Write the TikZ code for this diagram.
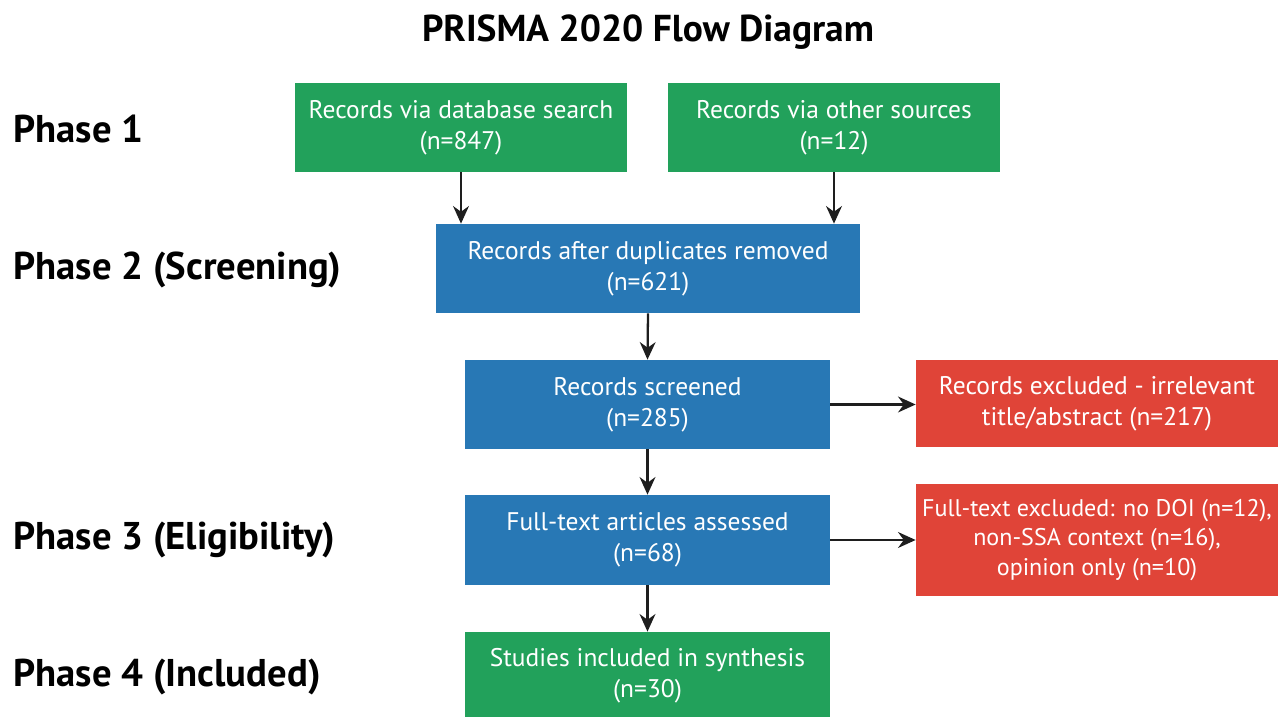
\documentclass[tikz,border=0pt]{standalone}
\usepackage{fontspec}
\setmainfont{PT Sans}
\setsansfont{PT Sans}
\usetikzlibrary{arrows.meta,positioning}
\definecolor{prgreen}{HTML}{22A15B}
\definecolor{prblue}{HTML}{2878B5}
\definecolor{prred}{HTML}{E04438}
\definecolor{prink}{HTML}{1E1E1E}

\begin{document}
\begin{tikzpicture}[
  font=\sffamily,
  stage/.style={fill=#1, text=white, align=center, inner sep=0pt, font=\sffamily\fontsize{14.5}{17.5}\selectfont},
  included/.style={stage=prgreen},
  screen/.style={stage=prblue},
  excluded/.style={stage=prred},
  phase/.style={anchor=west, inner sep=0pt, font=\sffamily\bfseries\fontsize{22}{26}\selectfont, text=black},
  flow/.style={-{Stealth[length=10pt,width=9pt]}, prink, line width=1.3pt}
]
\useasboundingbox (0,0) rectangle (25.56,14.34);

\node[font=\sffamily\bfseries\fontsize{21.3}{25}\selectfont] (title) at (12.96,13.7) {PRISMA 2020 Flow Diagram};

\node[phase] (p1) at (0.26,11.76) {Phase 1};
\node[phase] (p2) at (0.26,8.94) {Phase 2 (Screening)};
\node[phase] (p3) at (0.26,3.54) {Phase 3 (Eligibility)};
\node[phase] (p4) at (0.26,0.8) {Phase 4 (Included)};

\node[included, minimum width=6.64cm, minimum height=1.78cm] (db) at (9.22,11.79) {Records via database search\\(n=847)};
\node[included, minimum width=6.64cm, minimum height=1.78cm] (other) at (16.68,11.79) {Records via other sources\\(n=12)};

\node[screen, minimum width=8.48cm, minimum height=1.78cm] (dedup) at (12.96,8.97) {Records after duplicates removed\\(n=621)};
\node[screen, minimum width=7.3cm, minimum height=1.78cm] (screened) at (12.95,6.25) {Records screened\\(n=285)};
\node[excluded, minimum width=7.24cm, minimum height=1.74cm] (excl1) at (21.94,6.27) {Records excluded - irrelevant\\title/abstract (n=217)};
\node[screen, minimum width=7.3cm, minimum height=1.8cm] (fulltext) at (12.95,3.54) {Full-text articles assessed\\(n=68)};
\node[excluded, minimum width=7.24cm, minimum height=2.24cm, font=\sffamily\fontsize{13.7}{16.6}\selectfont] (excl2) at (21.94,3.54) {Full-text excluded: no DOI (n=12),\\non-SSA context (n=16),\\opinion only (n=10)};
\node[included, minimum width=7.3cm, minimum height=1.76cm] (synth) at (12.95,0.82) {Studies included in synthesis\\(n=30)};

\draw[flow] (db.south) -- (db.south |- dedup.north);
\draw[flow] (other.south) -- (other.south |- dedup.north);
\draw[flow] (dedup.south) -- (screened.north);
\draw[flow] (screened.east) -- (excl1.west |- screened.east);
\draw[flow] (screened.south) -- (fulltext.north);
\draw[flow] (fulltext.east) -- (excl2.west);
\draw[flow] (fulltext.south) -- (synth.north);

\end{tikzpicture}
\end{document}
